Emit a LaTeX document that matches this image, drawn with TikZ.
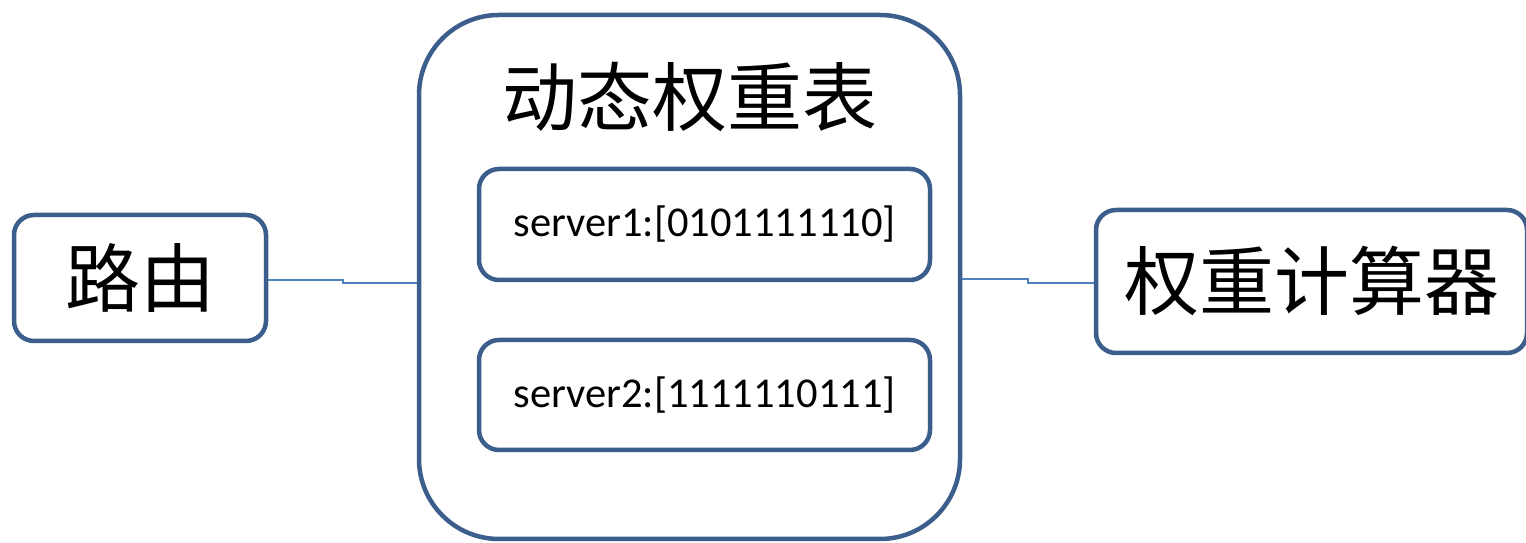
\documentclass[tikz,border=0pt]{standalone}
\usepackage{fontspec}
\setmainfont{Carlito}
\newfontfamily\cjk{Noto Sans CJK SC}
\usepackage{tikz}
\usetikzlibrary{calc,positioning}
\definecolor{boxblue}{HTML}{3B5E8C}
\definecolor{linkblue}{HTML}{4F81BD}

\begin{document}
\begin{tikzpicture}[x=1pt,y=1pt,
  box/.style={draw=boxblue, line width=4.5pt, rounded corners=20pt, fill=white,
    inner sep=0pt},
  bigbox/.style={box, rounded corners=80pt},
  cnword/.style={font=\cjk\fontsize{75}{85}\selectfont},
  entry/.style={font=\fontsize{42.5}{50}\selectfont},
  link/.style={draw=linkblue, line width=1.5pt}]
  \useasboundingbox(0,0)rectangle(1526,543);
  \node[box, minimum width=252, minimum height=126](route) at (140,265){};
  \node[cnword] at (route.center){路由};
  \node[bigbox, minimum width=541, minimum height=524](table) at (689.5,266){};
  \node[cnword](title) at (690,446){动态权重表};
  \node[box, minimum width=451, minimum height=111, entry](srvA) at (704.5,318.5)
    {server1:[0101111110]};
  \node[box, minimum width=451, minimum height=110, entry](srvB) at (704.5,148)
    {server2:[1111110111]};
  \node[box, minimum width=431, minimum height=143](calc) at (1311.5,261.5){};
  \node[cnword] at (calc.center){权重计算器};
  % links with a small step
  \coordinate(L1) at (343,263);
  \coordinate(R1) at (1028,264);
  \draw[link](route.east|-L1)--(L1)--++(0,-3)--(table.west|-0,260);
  \draw[link](table.east|-R1)--(R1)--++(0,-4)--(calc.west|-0,260);
\end{tikzpicture}
\end{document}
